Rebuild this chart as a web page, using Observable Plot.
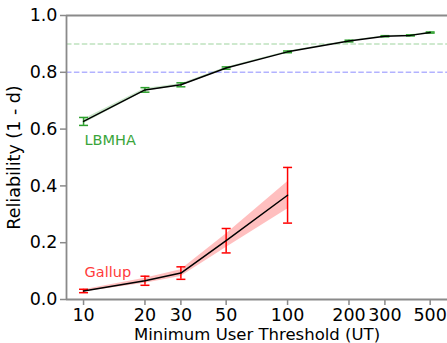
<!DOCTYPE html>
<html>
<head>
<meta charset="utf-8">
<script src="https://cdn.jsdelivr.net/npm/d3@7"></script>
<script src="https://cdn.jsdelivr.net/npm/@observablehq/plot@0.6"></script>
<style>
  html, body { margin: 0; padding: 0; background: #fff; }
</style>
</head>
<body>
<div id="chart"></div>
<script>
// ---- data ----
const lbmhaX = [10, 20, 30, 50, 100, 200, 300, 400, 500];
const lbmhaMean = [0.627, 0.738, 0.756, 0.815, 0.872, 0.910, 0.927, 0.930, 0.940];
const lbmhaErr = [0.014, 0.008, 0.007, 0.004, 0.003, 0.003, 0.002, 0.002, 0.002];
const lbmhaBand = [0.008, 0.005, 0.004, 0.003, 0.002, 0.002, 0.002, 0.002, 0.002];

const gallupX = [10, 20, 30, 50, 100];
const gallupMean = [0.030, 0.066, 0.093, 0.207, 0.367];
const gallupErr = [0.006, 0.016, 0.022, 0.043, 0.098];
const gallupBand = [0.004, 0.009, 0.012, 0.024, 0.048];

const refLines = [0.9, 0.8];
const refColors = ["#2ca02c", "#0000ff"];
const xTicks = [10, 20, 30, 50, 100, 200, 300, 500];
const yTicks = [0, 0.2, 0.4, 0.6, 0.8, 1.0];
const xDomain = [8.25, 608];
const yDomain = [0, 1];
const seriesLabels = [
  {name: "LBMHA", x: 10, y: 0.56, color: "#3aa53a"},
  {name: "Gallup", x: 10, y: 0.095, color: "#ff3b3b"}
];
const xLabel = "Minimum User Threshold (UT)";
const yLabel = "Reliability (1 - d)";

const lbmha = lbmhaX.map((x, i) => ({x, y: lbmhaMean[i], lo: lbmhaMean[i] - lbmhaErr[i], hi: lbmhaMean[i] + lbmhaErr[i], blo: lbmhaMean[i] - lbmhaBand[i], bhi: lbmhaMean[i] + lbmhaBand[i]}));
const gallup = gallupX.map((x, i) => ({x, y: gallupMean[i], lo: gallupMean[i] - gallupErr[i], hi: gallupMean[i] + gallupErr[i], blo: gallupMean[i] - gallupBand[i], bhi: gallupMean[i] + gallupBand[i]}));

const capSymbol = {draw(ctx) { ctx.moveTo(-4.5, 0); ctx.lineTo(4.5, 0); }};

function errorMarks(data, color) {
  return [
    Plot.ruleX(data, {x: "x", y1: "lo", y2: "hi", stroke: color, strokeWidth: 1.5}),
    Plot.dot(data, {x: "x", y: "lo", symbol: capSymbol, stroke: color, strokeWidth: 1.5, r: 3}),
    Plot.dot(data, {x: "x", y: "hi", symbol: capSymbol, stroke: color, strokeWidth: 1.5, r: 3})
  ];
}

const spine = "#8a8a8a";

const chart = Plot.plot({
  width: 447,
  height: 343,
  marginLeft: 66,
  marginTop: 15,
  marginBottom: 44,
  marginRight: 0,
  style: {fontFamily: "DejaVu Sans", fontSize: "17.5px", color: "black", background: "white"},
  x: {type: "log", domain: xDomain, ticks: xTicks, tickFormat: d3.format("d"), tickSize: 6, tickPadding: 3, label: null},
  y: {domain: yDomain, ticks: yTicks, tickFormat: d3.format(".1f"), tickSize: 6, tickPadding: 3, label: null},
  marks: [
    Plot.ruleY(refLines, {y: d => d, stroke: (d, i) => refColors[i], strokeOpacity: 0.3, strokeWidth: 1.5, strokeDasharray: "5.5,2.4"}),
    Plot.areaY(lbmha, {x: "x", y1: "blo", y2: "bhi", fill: "#2ca02c", fillOpacity: 0.25}),
    Plot.areaY(gallup, {x: "x", y1: "blo", y2: "bhi", fill: "#ff0000", fillOpacity: 0.25}),
    ...errorMarks(lbmha, "#2ca02c"),
    ...errorMarks(gallup, "#ff0000"),
    Plot.line(lbmha, {x: "x", y: "y", stroke: "black", strokeWidth: 1.5}),
    Plot.line(gallup, {x: "x", y: "y", stroke: "black", strokeWidth: 1.5}),
    Plot.text(seriesLabels, {x: "x", y: "y", text: "name", fill: "color", textAnchor: "start", fontSize: 14.5, dx: 1}),
    Plot.ruleX([xDomain[0]], {stroke: spine, strokeWidth: 1.8}),
    Plot.ruleY(yDomain, {stroke: spine, strokeWidth: 1.8}),
    Plot.text([xLabel], {frameAnchor: "bottom", dy: 35, lineAnchor: "middle", textAnchor: "middle", text: d => d, fontSize: 16.5}),
    Plot.text([yLabel], {frameAnchor: "left", dx: -52, rotate: -90, lineAnchor: "middle", textAnchor: "middle", text: d => d, fontSize: 17.5})
  ]
});

d3.select(chart).selectAll("[aria-label='x-axis tick'] path, [aria-label='y-axis tick'] path, [aria-label='x-axis'] line, [aria-label='y-axis'] line").attr("stroke", spine).attr("stroke-width", 1.5);
document.getElementById("chart").appendChild(chart);
</script>
</body>
</html>
